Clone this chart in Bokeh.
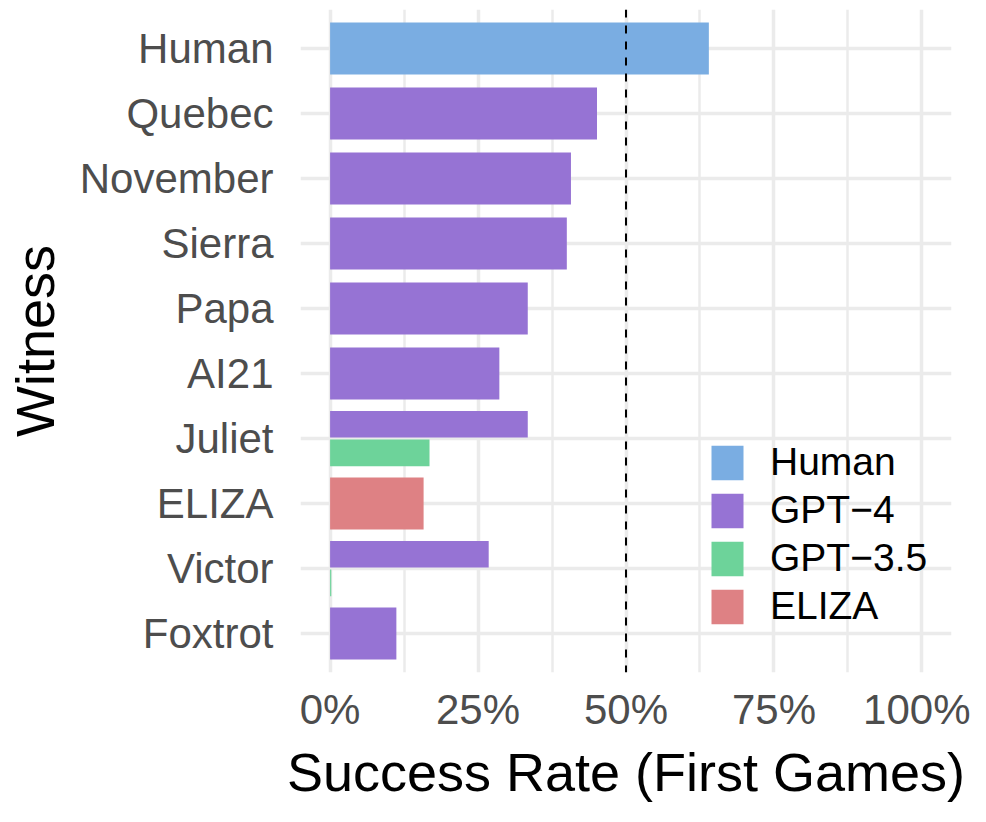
from bokeh.plotting import figure
from bokeh.models import (ColumnDataSource, FactorRange, Range1d, FixedTicker, PrintfTickFormatter,
                          Span, Legend, LegendItem)
from bokeh.transform import dodge
from bokeh.embed import file_html
from bokeh.resources import INLINE

# ---- data ----
witness_order = ["Human", "Quebec", "November", "Sierra", "Papa", "AI21",
                 "Juliet", "ELIZA", "Victor", "Foxtrot"]
witnesses = ["Human", "Quebec", "November", "Sierra", "Papa", "AI21",
             "Juliet", "Juliet", "ELIZA", "Victor", "Victor", "Foxtrot"]
models = ["Human", "GPT-4", "GPT-4", "GPT-4", "GPT-4", "GPT-4",
          "GPT-4", "GPT-3.5", "ELIZA", "GPT-4", "GPT-3.5", "GPT-4"]
rates = [64.0, 45.1, 40.7, 40.0, 33.4, 28.6,
         33.4, 16.8, 15.8, 26.8, 0.2, 11.2]
legend_models = ["Human", "GPT-4", "GPT-3.5", "ELIZA"]
legend_labels = ["Human", "GPT\u22124", "GPT\u22123.5", "ELIZA"]
model_colors = {"Human": "#7AADE2", "GPT-4": "#9673D4", "GPT-3.5": "#6DD39A", "ELIZA": "#DE8184"}
x_ticks = [0, 25, 50, 75, 100]
x_minor = [12.5, 37.5, 62.5, 87.5]
x_title = "Success Rate (First Games)"
y_title = "Witness"

FONT = "Liberation Sans"

p = figure(width=970, height=806, output_backend="svg", toolbar_location=None,
           y_range=FactorRange(factors=list(reversed(witness_order)), range_padding=0.1,
                               range_padding_units="absolute"),
           x_range=Range1d(-5, 105),
           min_border_left=300, min_border_right=19, min_border_top=9, min_border_bottom=134)
p.title_location = None
p.outline_line_color = None
p.background_fill_color = "white"
p.border_fill_color = "white"

# count models per witness for dodging
counts = {w: witnesses.count(w) for w in witness_order}
renderers = {}
for m in legend_models:
    groups = {}
    for i, (w, mm, r) in enumerate(zip(witnesses, models, rates)):
        if mm != m:
            continue
        if counts[w] == 1:
            key = (0.0, 0.8)
        else:
            first = witnesses.index(w)
            key = (0.22 if i == first else -0.22, 0.41)
        groups.setdefault(key, {"w": [], "r": []})
        groups[key]["w"].append(w)
        groups[key]["r"].append(r)
    for (off, h), d in groups.items():
        src = ColumnDataSource(d)
        rr = p.hbar(y=dodge("w", off, range=p.y_range), right="r", left=0, height=h,
                    source=src, fill_color=model_colors[m], line_color=None)
        renderers.setdefault(m, rr)

span = Span(location=50, dimension="height", line_color="black", line_dash="8 8", line_width=2)
p.add_layout(span)

# axes
p.xaxis.ticker = FixedTicker(ticks=x_ticks, minor_ticks=x_minor)
p.xaxis.formatter = PrintfTickFormatter(format="%d%%")
for ax in (p.xaxis, p.yaxis):
    ax.axis_line_color = None
    ax.major_tick_line_color = None
    ax.minor_tick_line_color = None
    ax.major_label_text_font = FONT
    ax.major_label_text_font_size = "42px"
    ax.major_label_text_color = "#4D4D4D"
    ax.axis_label_text_font = FONT
    ax.axis_label_text_font_size = "54px"
    ax.axis_label_text_font_style = "normal"
    ax.axis_label_text_color = "black"
p.xaxis.axis_label = x_title
p.yaxis.axis_label = y_title
p.xaxis.major_label_standoff = 7
p.xaxis.axis_label_standoff = 6
p.yaxis.major_label_standoff = 21
p.yaxis.axis_label_standoff = 12

p.xgrid.grid_line_color = "#EBEBEB"
p.xgrid.grid_line_width = 3.5
p.xgrid.minor_grid_line_color = "#EBEBEB"
p.xgrid.minor_grid_line_width = 2.5
p.ygrid.grid_line_color = "#EBEBEB"
p.ygrid.grid_line_width = 3.5

legend = Legend(items=[LegendItem(label=lab, renderers=[renderers[m]])
                       for m, lab in zip(legend_models, legend_labels)],
                location=(407, 44))
legend.background_fill_alpha = 0
legend.border_line_color = None
legend.padding = 0
legend.margin = 0
legend.glyph_width = 40
legend.glyph_height = 43
legend.label_height = 43
legend.spacing = 4
legend.label_standoff = 23
legend.label_text_font = FONT
legend.label_text_font_size = "39px"
legend.label_text_color = "black"
p.add_layout(legend, "center")

open("out.html", "w").write(file_html(p, INLINE))
